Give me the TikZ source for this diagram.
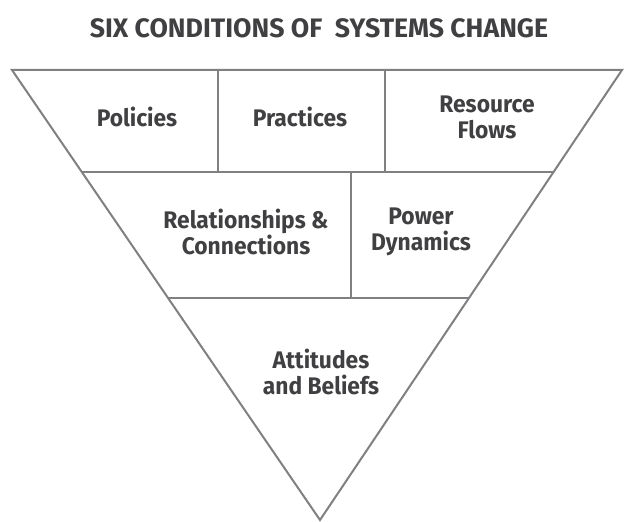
\documentclass[tikz,border=0pt]{standalone}
\usepackage{fontspec}
\setmainfont{Fira Sans}
\newfontfamily\condfont{Fira Sans}[FakeStretch=0.95]
\usepackage{tikz}
\usetikzlibrary{calc}
\definecolor{SysChangeLine}{RGB}{128,128,130}
\definecolor{SysChangeText}{RGB}{64,64,66}

\begin{document}
\begin{tikzpicture}[x=1pt,y=1pt,line width=2pt,
  edge/.style={draw=SysChangeLine},
  cond/.style={text=SysChangeText,font=\condfont\bfseries\fontsize{24}{26}\selectfont,align=center,inner sep=0pt}]
\useasboundingbox (0,0) rectangle (624,522);
\coordinate (tl) at (12,452);
\coordinate (tr) at (622,452);
\coordinate (apex) at (320,2);
\coordinate (l1) at ($(tl)!0.2267!(apex)$);
\coordinate (r1) at ($(tr)!0.2267!(apex)$);
\coordinate (l2) at ($(tl)!0.5067!(apex)$);
\coordinate (r2) at ($(tr)!0.5067!(apex)$);
\draw[edge,line join=miter] (tl) -- (tr) -- (apex) -- cycle;
\draw[edge] (l1) -- (r1);
\draw[edge] (l2) -- (r2);
\foreach \x in {218,385} {
   \draw[edge] (\x,452) -- (\x,350);
}
\draw[edge] (351,350) -- (351,224);
\node[text=SysChangeText,font=\bfseries\fontsize{26.7}{28}\selectfont] (title) at (319,494) {SIX CONDITIONS OF \ SYSTEMS CHANGE};
\node[cond] (policies) at (137,405) {Policies};
\node[cond] (practices) at (300,405) {Practices};
\node[cond] (resources) at (487,405) {Resource\\Flows};
\node[cond] (relations) at (246,290) {Relationships \&\\Connections};
\node[cond] (power) at (421,290) {Power\\Dynamics};
\node[cond] (beliefs) at (321,150) {Attitudes\\and Beliefs};
\end{tikzpicture}
\end{document}
